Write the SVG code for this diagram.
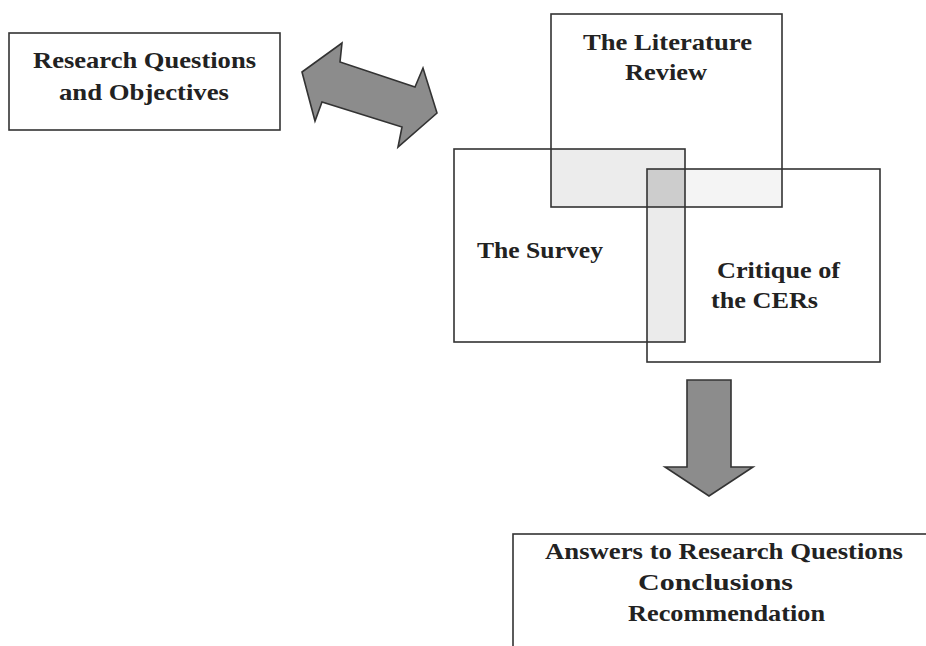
<svg xmlns="http://www.w3.org/2000/svg" width="926" height="646" viewBox="0 0 926 646">
<style>
.box{fill:none;stroke:#333;stroke-width:1.6}
.t{font-family:"Liberation Serif","Times New Roman",serif;font-weight:bold;font-size:23px;fill:#222}
.c{text-anchor:middle}
.arrow{fill:#8c8c8c;stroke:#333;stroke-width:1.6;stroke-linejoin:miter}
</style>
<rect width="926" height="646" fill="#fff"/>
<g id="overlaps">
<rect x="551" y="149" width="134" height="58" fill="#ececec"/>
<rect x="685" y="169" width="97" height="38" fill="#f4f4f4"/>
<rect x="647" y="207" width="38" height="135" fill="#ebebeb"/>
<rect x="647" y="169" width="38" height="38" fill="#cdcdcd"/>
</g>
<g id="research-questions">
<rect class="box" x="9" y="33" width="271" height="97"/>
<text class="t" x="33" y="68" textLength="223" lengthAdjust="spacingAndGlyphs">Research Questions</text>
<text class="t" x="59" y="99.5" textLength="170" lengthAdjust="spacingAndGlyphs">and Objectives</text>
</g>
<g id="literature-review">
<rect class="box" x="551" y="14" width="231" height="193"/>
<text class="t" x="583" y="50" textLength="169" lengthAdjust="spacingAndGlyphs">The Literature</text>
<text class="t" x="625" y="80" textLength="82" lengthAdjust="spacingAndGlyphs">Review</text>
</g>
<g id="survey">
<rect class="box" x="454" y="149" width="231" height="193"/>
<text class="t" x="477" y="258" textLength="126" lengthAdjust="spacingAndGlyphs">The Survey</text>
</g>
<g id="critique">
<rect class="box" x="647" y="169" width="233" height="193"/>
<text class="t" x="717" y="278" textLength="123" lengthAdjust="spacingAndGlyphs">Critique of</text>
<text class="t" x="711" y="308" textLength="107" lengthAdjust="spacingAndGlyphs">the CERs</text>
</g>
<g id="answers">
<rect class="box" x="513" y="534" width="430" height="130"/>
<text class="t" x="545" y="559" textLength="358" lengthAdjust="spacingAndGlyphs">Answers to Research Questions</text>
<text class="t" x="638" y="590" textLength="155" lengthAdjust="spacingAndGlyphs">Conclusions</text>
<text class="t" x="628" y="621" textLength="197" lengthAdjust="spacingAndGlyphs">Recommendation</text>
</g>
<g id="connectors">
<polygon class="arrow" points="302,72 342,43 340,62 415,87 423,68 437,113 398,147 402,127 322,102 315,121"/>
<polygon class="arrow" points="687,380 731,380 731,467 753,467 709,496 665,467 687,467"/>
</g>
</svg>
